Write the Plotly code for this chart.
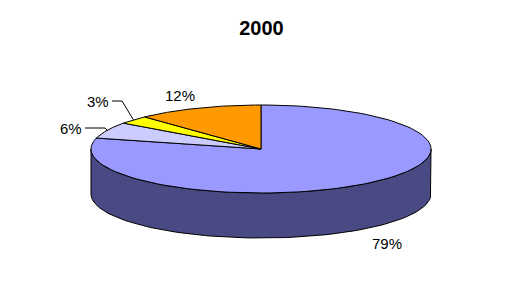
import numpy as np
import plotly.graph_objects as go

# ---- data ----
categories = ["A", "B", "C", "D"]
values = [79, 6, 3, 12]
top_colors = ["#9999FF", "#CCCCFF", "#FFFF00", "#FF9900"]
side_colors = ["#494983", "#66667F", "#7F7F00", "#7F4C00"]
labels_txt = ["79%", "6%", "3%", "12%"]
title_text = "2000"

# ---- geometry (pixel-like plot units) ----
W, H = 523, 301
cx, cy = 261, 149
rx, ry = 170, 44
depth = 45

total = float(sum(values))
fracs = [v / total for v in values]

# angles (degrees, math convention), start at top and go clockwise
starts, ends = [], []
a = 90.0
for f in fracs:
    starts.append(a)
    a -= f * 360.0
    ends.append(a)

def pt(t_deg, dy=0.0):
    t = np.radians(t_deg)
    return cx + rx * np.cos(t), cy - ry * np.sin(t) + dy

fig = go.Figure()

# side walls: visible part is the front (t in [180, 360] mod 360)
for i in range(len(values)):
    s, e = ends[i], starts[i]  # s < e
    # normalise to range and intersect with [-180, 0] (front half) and [180,360]
    for lo, hi in [(-180.0, 0.0), (180.0, 360.0), (-540.0, -360.0)]:
        a0, a1 = max(s, lo), min(e, hi)
        if a1 - a0 > 1e-6:
            ts = np.linspace(a0, a1, 80)
            xs_top = [pt(t)[0] for t in ts]
            ys_top = [pt(t)[1] for t in ts]
            xs_bot = [pt(t, depth)[0] for t in ts[::-1]]
            ys_bot = [pt(t, depth)[1] for t in ts[::-1]]
            fig.add_trace(go.Scatter(
                x=xs_top + xs_bot + [xs_top[0]],
                y=ys_top + ys_bot + [ys_top[0]],
                mode="lines", fill="toself", fillcolor=side_colors[i],
                line=dict(color="black", width=1), hoverinfo="skip"))

# top wedges
for i in range(len(values)):
    ts = np.linspace(starts[i], ends[i], 120)
    xs = [cx] + [pt(t)[0] for t in ts] + [cx]
    ys = [cy] + [pt(t)[1] for t in ts] + [cy]
    fig.add_trace(go.Scatter(
        x=xs, y=ys, mode="lines", fill="toself", fillcolor=top_colors[i],
        line=dict(color="black", width=1), name=categories[i],
        hoverinfo="name"))

# labels
label_pos = {0: (387, 243), 1: (71, 128), 2: (98, 101), 3: (180, 95)}
leader = {1: [(85, 128), (105, 128)], 2: [(112, 101), (122, 101)]}
for i in range(len(values)):
    lx, ly = label_pos[i]
    fig.add_annotation(x=lx, y=ly, text=labels_txt[i], showarrow=False,
                       font=dict(family="Liberation Sans, Arial", size=15,
                                 color="black"))
    if i in leader:
        mid = (starts[i] + ends[i]) / 2.0
        ex, ey = pt(mid)
        pts = leader[i] + [(ex, ey)]
        fig.add_trace(go.Scatter(x=[p[0] for p in pts], y=[p[1] for p in pts],
                                 mode="lines", line=dict(color="black", width=1),
                                 hoverinfo="skip"))

fig.update_layout(
    width=W, height=H,
    margin=dict(l=0, r=0, t=0, b=0),
    paper_bgcolor="white", plot_bgcolor="white",
    showlegend=False,
    xaxis=dict(range=[0, W], visible=False, fixedrange=True),
    yaxis=dict(range=[H, 0], visible=False, fixedrange=True),
    title=dict(text="<b>%s</b>" % title_text, x=0.5, xanchor="center",
               y=1 - 28 / H, yanchor="middle",
               font=dict(family="Liberation Sans, Arial", size=20, color="black")),
)

fig.write_html("out.html")
